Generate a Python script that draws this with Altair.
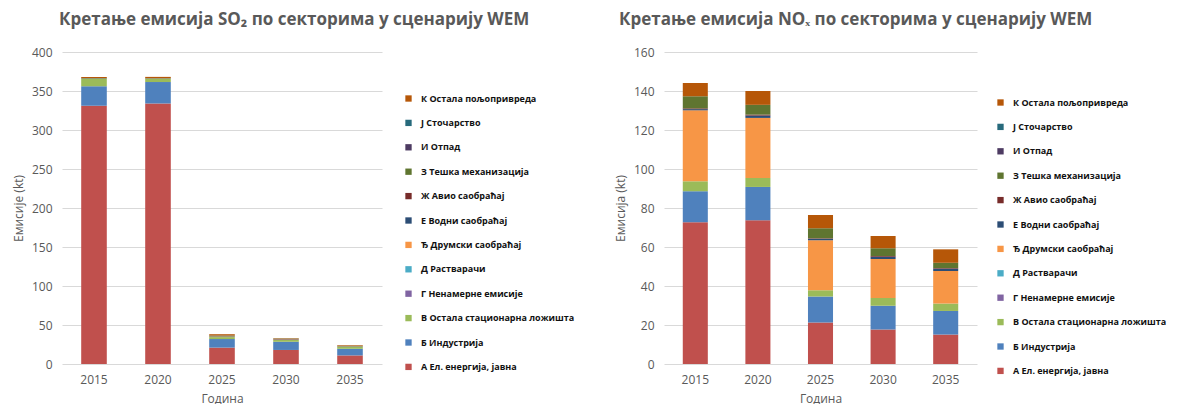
import altair as alt
import pandas as pd

years = ["2015", "2020", "2025", "2030", "2035"]

categories = [
    "А Ел. енергија, јавна",
    "Б Индустрија",
    "В Остала стационарна ложишта",
    "Г Ненамерне емисије",
    "Д Растварачи",
    "Ђ Друмски саобраћај",
    "Е Водни саобраћај",
    "Ж Авио саобраћај",
    "З Тешка механизација",
    "И Отпад",
    "Ј Сточарство",
    "К Остала пољопривреда",
]

colors = [
    "#C0504D", "#4F81BD", "#9BBB59", "#8064A2", "#4BACC6", "#F79646",
    "#2C4D75", "#772C2A", "#5F7530", "#4D3B62", "#276A7C", "#B65708",
]

# SO2 (kt) per category, years 2015..2035
so2 = [
    [331, 334, 21, 18, 11],
    [25, 27.5, 11, 10.5, 8.5],
    [9.5, 4, 2.5, 2.5, 2.5],
    [0, 0, 0, 0, 0],
    [0, 0, 0, 0, 0],
    [0.3, 0.3, 0.5, 0.3, 0.3],
    [0.2, 0.2, 0.3, 0.3, 0.2],
    [0.1, 0.1, 0.2, 0.5, 0.2],
    [0.7, 0.5, 1.0, 0.5, 0.6],
    [0, 0, 0, 0, 0],
    [0, 0, 0, 0, 0],
    [1.0, 1.5, 1.7, 0.5, 0.8],
]

# NOx (kt) per category, years 2015..2035
nox = [
    [72.7, 73.7, 21.3, 17.7, 15.1],
    [15.9, 17.1, 13.3, 12.2, 12.1],
    [5.1, 4.6, 3.2, 4.0, 3.8],
    [0, 0, 0, 0, 0],
    [0, 0, 0, 0, 0],
    [36.4, 30.8, 25.6, 19.9, 16.7],
    [0.6, 1.2, 0.8, 1.2, 1.2],
    [0.4, 0.5, 0.3, 0.4, 0.3],
    [6.2, 5.0, 5.1, 3.9, 2.7],
    [0, 0, 0, 0, 0],
    [0, 0, 0, 0, 0],
    [6.8, 7.1, 6.8, 6.3, 6.9],
]

so2_ticks = [0, 50, 100, 150, 200, 250, 300, 350, 400]
nox_ticks = [0, 20, 40, 60, 80, 100, 120, 140, 160]

FONT = "Open Sans"
GRAY = "#595959"


def long_df(series):
    rows = []
    for i, cat in enumerate(categories):
        for j, y in enumerate(years):
            rows.append({"year": y, "category": cat, "idx": i, "value": series[i][j]})
    return pd.DataFrame(rows)


legend_order = categories[::-1]
legend_colors = colors[::-1]


def panel(df, title, ytitle, ticks, w, h, lx, ly, tdx):
    return alt.Chart(df, title=alt.TitleParams(
        text=title, anchor="start", frame="group", dx=tdx, fontSize=17, font=FONT,
        fontWeight="bold", color=GRAY, offset=17,
    )).mark_bar().encode(
        x=alt.X("year:N", sort=years, title="Година",
                scale=alt.Scale(paddingInner=0.6, paddingOuter=0.3),
                axis=alt.Axis(labelAngle=0, labelPadding=10, titlePadding=8, grid=False)),
        y=alt.Y("value:Q", stack="zero", title=ytitle,
                scale=alt.Scale(domain=[ticks[0], ticks[-1]], nice=False),
                axis=alt.Axis(values=ticks, labelPadding=10, titlePadding=6,
                              grid=True, gridColor="#D9D9D9")),
        color=alt.Color("category:N",
                        scale=alt.Scale(domain=legend_order, range=legend_colors),
                        legend=alt.Legend(title=None, orient="none", legendX=lx, legendY=ly,
                                          symbolType="square", symbolSize=40,
                                          symbolStrokeWidth=0, labelFont=FONT,
                                          labelFontSize=9, labelFontWeight="bold",
                                          labelColor="#111111", rowPadding=14.4,
                                          labelOffset=8, padding=0, labelLimit=300)),
        order=alt.Order("idx:Q", sort="ascending"),
    ).properties(width=w, height=h)


left = panel(long_df(so2), "Кретање емисија SO₂ по секторима у сценарију WEM",
             "Емисије (kt)", so2_ticks, 320, 312, 342, 42, -3)
right = panel(long_df(nox), "Кретање емисија NOₓ по секторима у сценарију WEM",
              "Емисија (kt)", nox_ticks, 313, 312, 332, 46, -45)

chart = alt.hconcat(left, right, spacing=39).properties(
    padding={"left": 4, "top": 3, "right": 0, "bottom": 0}
).resolve_scale(
    color="independent", x="independent", y="independent"
).resolve_legend(color="independent").configure_view(stroke=None).configure_axis(
    labelColor=GRAY, titleColor=GRAY, labelFont=FONT, titleFont=FONT,
    labelFontSize=12, titleFontSize=12, titleFontWeight="normal",
    domain=False, ticks=False,
)

chart.save("out.html", embed_options={"renderer": "svg", "actions": False})
